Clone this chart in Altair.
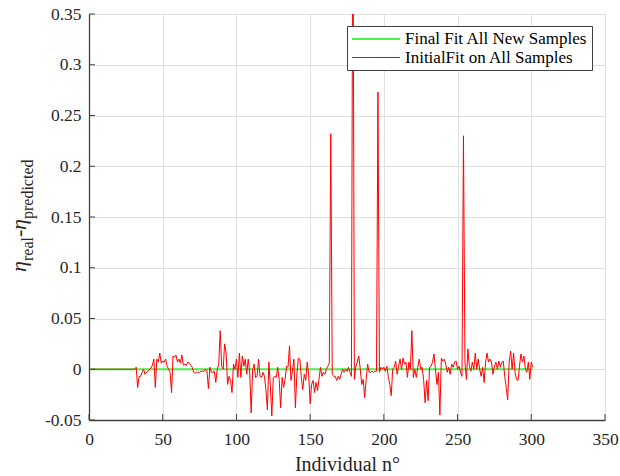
import altair as alt
import pandas as pd

# ---------------- data ----------------
x_ticks = [0, 50, 100, 150, 200, 250, 300, 350]
y_ticks = [-0.05, 0, 0.05, 0.1, 0.15, 0.2, 0.25, 0.3, 0.35]

series_names = ["Final Fit All New Samples", "InitialFit on All Samples"]
series_colors = ["#4cf04c", "#ff0000"]
series_widths = [2, 1]

final_x = [1, 301]
final_y = [0.0, 0.0]

initial_x = list(range(1, 302))
initial_y = [
    # 1-31
    0, 0, 0, 0, 0, 0, 0, 0, 0, 0, 0, 0, 0, 0, 0, 0, 0, 0, 0, 0,
    0, 0, 0, 0, 0, 0, 0, 0, 0, 0, 0,
    # 32-73
    0.002, -0.018, -0.007, -0.007, -0.003, 0.000, -0.005, -0.003, -0.002, 0.000,
    0.001, 0.004, 0.010, -0.018, 0.010, 0.007, 0.016, 0.006, 0.008, 0.007,
    0.010, 0.003, 0.000, -0.003, -0.023, 0.013, 0.012, 0.014, 0.007, 0.010,
    0.006, 0.014, 0.004, 0.005, 0.004, 0.007, 0.006, 0.004, 0.002, -0.003,
    -0.004, -0.003,
    # 74-121
    -0.003, -0.003, -0.002, -0.002, -0.002, 0.000, -0.001, -0.019, 0.002, -0.003,
    -0.003, -0.002, -0.013, 0.000, 0.005, 0.038, 0.003, 0.000, 0.025, 0.016,
    -0.015, -0.007, -0.011, -0.023, 0.005, 0.000, 0.010, -0.008, 0.016, -0.008,
    0.013, 0.003, 0.010, -0.005, 0.010, -0.003, -0.043, 0.000, 0.005, -0.008,
    -0.007, 0.010, -0.007, -0.008, -0.003, -0.007, -0.020, -0.040,
    # 122-164
    0.007, -0.016, -0.046, -0.008, -0.007, -0.008, 0.002, -0.010, -0.038, -0.008,
    -0.018, -0.010, 0.003, 0.002, 0.023, -0.011, -0.002, 0.010, -0.038, -0.005,
    0.011, 0.010, -0.008, -0.020, -0.005, -0.011, 0.007, -0.005, -0.034, -0.015,
    -0.011, -0.023, -0.013, -0.021, -0.010, 0.002, -0.007, -0.003, -0.005, 0.000,
    0.003, 0.006, 0.232,
    # 165-213
    -0.005, -0.007, -0.007, -0.011, -0.007, -0.010, -0.005, 0.000, -0.003, 0.000,
    -0.002, 0.002, -0.003, -0.007, 0.500, -0.010, 0.003, 0.007, 0.013, 0.000,
    -0.015, -0.010, -0.028, -0.010, 0.005, -0.003, -0.003, -0.002, -0.003, -0.002,
    -0.002, 0.273, -0.003, 0.002, 0.000, 0.002, -0.002, 0.003, -0.007, -0.015,
    -0.026, 0.000, 0.002, 0.008, -0.005, 0.003, 0.010, 0.000, 0.011,
    # 214-260
    0.005, 0.007, -0.008, 0.007, 0.000, 0.038, -0.008, 0.000, -0.008, 0.002,
    0.010, 0.000, 0.002, -0.011, -0.033, -0.011, -0.031, 0.002, 0.003, 0.007,
    0.015, 0.000, -0.015, -0.003, -0.045, 0.011, 0.008, 0.010, 0.005, -0.003,
    0.002, -0.005, 0.005, 0.002, 0.007, 0.008, 0.000, 0.003, -0.003, -0.007,
    0.230, 0.007, -0.010, 0.020, 0.003, -0.002, 0.007,
    # 261-301
    0.000, 0.016, 0.000, 0.010, 0.000, -0.007, 0.002, -0.013, 0.007, 0.016,
    0.007, 0.010, 0.007, -0.005, 0.003, 0.007, 0.000, 0.008, 0.002, 0.007,
    0.008, -0.007, -0.018, -0.030, 0.007, 0.018, 0.000, 0.016, -0.003, -0.010,
    -0.011, 0.003, 0.015, 0.007, 0.013, 0.000, -0.003, 0.007, -0.010, 0.007,
    0.002,
]

x_title = "Individual n°"
y_title_parts = ["η", "real", "-", "η", "predicted"]

# ---------------- layout / style ----------------
W, H = 516, 406
FONT = "Liberation Serif"
AXIS_COLOR = "#404040"
TEXT_COLOR = "#262626"
GRID_COLOR = "#e0e0e0"

xscale = alt.Scale(domain=[0, 350], nice=False, zero=False)
yscale = alt.Scale(domain=[-0.05, 0.35], nice=False, zero=False)

final_df = pd.DataFrame({"x": final_x, "y": final_y, "series": series_names[0]})
initial_df = pd.DataFrame({"x": initial_x, "y": initial_y, "series": series_names[1]})

legend = alt.Legend(
    title=None, orient="none", legendX=258, legendY=12,
    strokeColor=AXIS_COLOR, fillColor="white", padding=4, rowPadding=1,
    symbolType="M-1,0H5", symbolSize=256, labelFont=FONT, labelFontSize=17,
    labelColor="black", labelOffset=36, labelLimit=400, cornerRadius=0,
)

x_axis = alt.Axis(
    values=x_ticks, grid=True, gridColor=GRID_COLOR, ticks=False,
    domainColor=AXIS_COLOR, domainWidth=1.3,
    labelFont=FONT, labelFontSize=17.5, labelColor=TEXT_COLOR, labelPadding=10,
    labelFlush=False,
    title=x_title, titleFont=FONT, titleFontSize=20, titleFontWeight="normal",
    titleColor=TEXT_COLOR, titleBaseline="alphabetic", titleY=50,
)
y_axis = alt.Axis(
    values=y_ticks, grid=True, gridColor=GRID_COLOR, ticks=False,
    domainColor=AXIS_COLOR, domainWidth=1.3,
    labelFont=FONT, labelFontSize=17.5, labelColor=TEXT_COLOR, labelPadding=8,
    labelFlush=False,
    labelExpr="datum.value < 0 ? '-' + format(-datum.value, '.2~f') : format(datum.value, '.2~f')",
    title=None,
)

color = alt.Color("series:N", scale=alt.Scale(domain=series_names, range=series_colors), legend=legend)
width_enc = alt.StrokeWidth("series:N", scale=alt.Scale(domain=series_names, range=series_widths), legend=legend)

final_line = alt.Chart(final_df).mark_line(clip=True).encode(
    x=alt.X("x:Q", scale=xscale, axis=x_axis),
    y=alt.Y("y:Q", scale=yscale, axis=y_axis),
    color=color, strokeWidth=width_enc,
)
initial_line = alt.Chart(initial_df).mark_line(clip=True).encode(
    x=alt.X("x:Q", scale=xscale, axis=x_axis),
    y=alt.Y("y:Q", scale=yscale, axis=y_axis),
    color=color, strokeWidth=width_enc,
)

x_tick_marks = alt.Chart(pd.DataFrame({"x": x_ticks})).mark_rule(color=AXIS_COLOR, strokeWidth=1).encode(
    x=alt.X("x:Q", scale=xscale, axis=x_axis), y=alt.value(H), y2=alt.value(H - 6)
)
y_tick_marks = alt.Chart(pd.DataFrame({"y": y_ticks})).mark_rule(color=AXIS_COLOR, strokeWidth=1).encode(
    y=alt.Y("y:Q", scale=yscale, axis=y_axis), x=alt.value(0), x2=alt.value(6)
)


def title_piece(text, px, py, size, italic):
    kw = dict(angle=270, align="left", baseline="alphabetic", font=FONT,
              fontSize=size, color=TEXT_COLOR)
    if italic:
        kw["fontStyle"] = "italic"
    return alt.Chart(pd.DataFrame({"t": [text]})).mark_text(**kw).encode(
        text="t:N", x=alt.value(px), y=alt.value(py)
    )


y_title_layers = [
    title_piece(y_title_parts[0], -63, 258, 22, True),
    title_piece(y_title_parts[1], -56, 247, 16, False),
    title_piece(y_title_parts[2], -63, 223, 22, False),
    title_piece(y_title_parts[3], -63, 216, 22, True),
    title_piece(y_title_parts[4], -56, 205, 16, False),
]

chart = alt.layer(
    final_line, initial_line, x_tick_marks, y_tick_marks, *y_title_layers
).properties(
    width=W, height=H, autosize="none",
    padding={"left": 89, "top": 14, "right": 15, "bottom": 56},
    background="white",
).configure_view(
    stroke=None
).configure_axis(
    labelFont=FONT, titleFont=FONT, labelFontSize=17.5,
).configure_legend(
    labelFont=FONT,
).configure(font=FONT)

chart.save("out.html", embed_options={"renderer": "svg", "actions": False})
